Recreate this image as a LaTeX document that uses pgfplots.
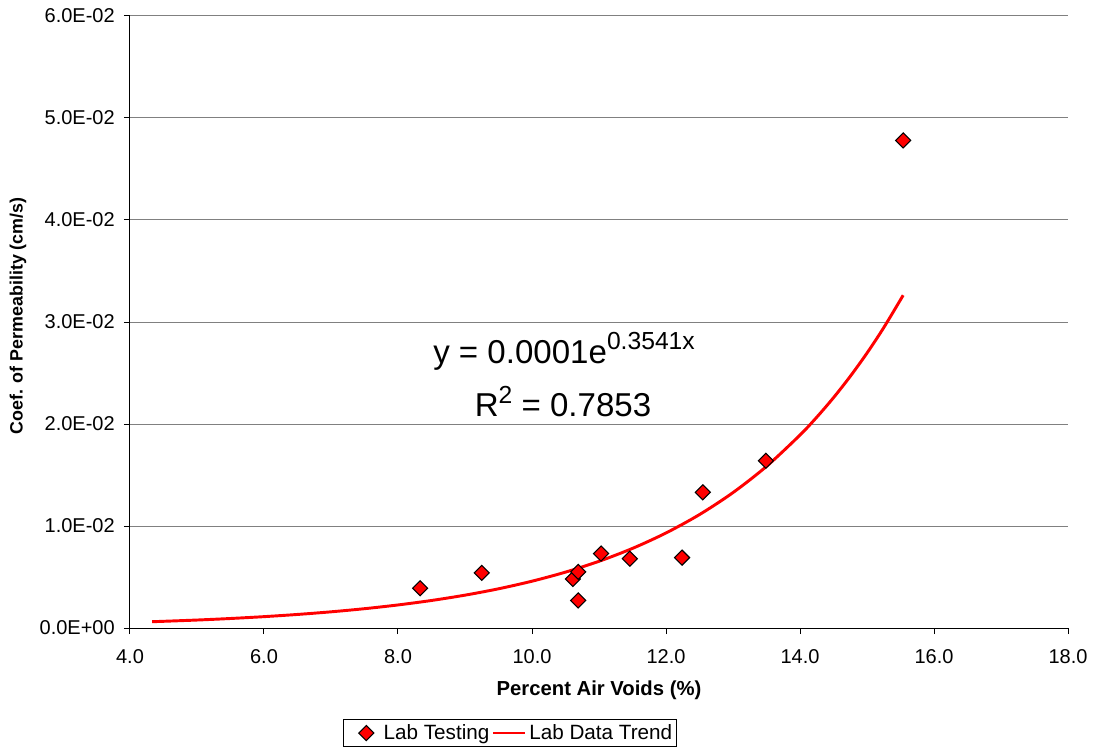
\documentclass[border=0pt]{standalone}
\usepackage{fontspec}
\setmainfont{Liberation Sans}
\usepackage{pgfplots}
\pgfplotsset{compat=1.18}
\newcommand{\tlf}{\fontsize{15}{17}\selectfont}
\pgfplotsset{
  mylegmark/.style={legend image code/.code={\path[draw=none] (0pt,0pt) -- (27pt,0pt); \draw[##1] plot coordinates {(16pt,0pt)};}},
  myleglinestyle/.style={legend image code/.code={\draw[##1, line width=2pt] (0pt,0pt) -- (24pt,0pt);}},
}
\begin{document}
\begin{tikzpicture}
\begin{axis}[
  scale only axis,
  width=703.5pt, height=459pt,
  xmin=4, xmax=18, ymin=0, ymax=0.06,
  axis x line=bottom, axis y line=left,
  axis line style={-, black, line width=0.75pt},
  tick align=outside,
  major tick length=4.5pt,
  tick style={black, line width=0.75pt},
  xtick={4,6,8,10,12,14,16,18},
  xticklabels={},
  ytick={0,0.01,0.02,0.03,0.04,0.05,0.06},
  yticklabels={},
  scaled y ticks=false,
  ymajorgrids,
  grid style={gray, line width=0.75pt},
  xlabel={\textbf{Percent Air Voids (\%)}},
  ylabel={\textbf{Coef. of Permeability (cm/s)}},
  xlabel style={font=\fontsize{15.2}{17}\selectfont, at={(axis description cs:0.5,-0.1013)}, anchor=center},
  ylabel style={font=\fontsize{13.4}{15}\selectfont, at={(axis description cs:-0.1194,0.51)}, anchor=center},
  legend columns=2,
  legend style={at={(0.405,-0.1716)}, anchor=center, draw=black, line width=0.6pt,
    font=\fontsize{15.5}{17}\selectfont, inner sep=1.5pt},
  legend cell align=left,
  clip=false,
]
\addplot[only marks, mark=square*, mark size=4pt,
  mark options={rotate=45, fill=red, draw=black, line width=0.8pt}, mylegmark]
  coordinates {
  (8.33,0.0039) (9.25,0.0054) (10.61,0.0048) (10.69,0.0055) (10.69,0.0027)
  (11.03,0.0073) (11.46,0.0068) (12.24,0.0069) (12.55,0.0133) (13.49,0.0164)
  (15.54,0.0478)
  };
\addlegendentry{Lab Testing}
\addplot[red, line width=2.2pt, smooth, no marks, myleglinestyle]
  coordinates {
  (4.33,0.000616) (5,0.000781) (5.5,0.000932) (6,0.001113) (6.5,0.001329)
  (7,0.001586) (7.5,0.001893) (8,0.002260) (8.5,0.002698) (9,0.003220)
  (9.5,0.003844) (10,0.004589) (10.5,0.005478) (11,0.006540) (11.5,0.007805)
  (12,0.009317) (12.5,0.011121) (13,0.013276) (13.5,0.015847) (14,0.018917)
  (14.25,0.020667) (14.5,0.022581) (14.75,0.024673) (15,0.026954)
  (15.25,0.029448) (15.54,0.032625)
  };
\addlegendentry{Lab Data Trend}
% tick labels (text)
\begin{scope}[every node/.style={font=\tlf, inner sep=0pt}]
\node[anchor=east, xshift=-11.25pt] at (axis cs:4,0) {0.0E+00};
\node[anchor=east, xshift=-11.25pt] at (axis cs:4,0.01) {1.0E-02};
\node[anchor=east, xshift=-11.25pt] at (axis cs:4,0.02) {2.0E-02};
\node[anchor=east, xshift=-11.25pt] at (axis cs:4,0.03) {3.0E-02};
\node[anchor=east, xshift=-11.25pt] at (axis cs:4,0.04) {4.0E-02};
\node[anchor=east, xshift=-11.25pt] at (axis cs:4,0.05) {5.0E-02};
\node[anchor=east, xshift=-11.25pt] at (axis cs:4,0.06) {6.0E-02};
\node[anchor=north, yshift=-16pt] at (axis cs:4,0) {4.0};
\node[anchor=north, yshift=-16pt] at (axis cs:6,0) {6.0};
\node[anchor=north, yshift=-16pt] at (axis cs:8,0) {8.0};
\node[anchor=north, yshift=-16pt] at (axis cs:10,0) {10.0};
\node[anchor=north, yshift=-16pt] at (axis cs:12,0) {12.0};
\node[anchor=north, yshift=-16pt] at (axis cs:14,0) {14.0};
\node[anchor=north, yshift=-16pt] at (axis cs:16,0) {16.0};
\node[anchor=north, yshift=-16pt] at (axis cs:18,0) {18.0};
\end{scope}
\node[font=\fontsize{24.8}{28}\selectfont, anchor=base] at (axis cs:10.478,0.02598)
  {y = 0.0001e\raisebox{10pt}{\fontsize{18.5}{20}\selectfont 0.3541x}};
\node[font=\fontsize{24.8}{28}\selectfont, anchor=base] at (axis cs:10.463,0.02069)
  {R\raisebox{10pt}{\fontsize{18.5}{20}\selectfont 2} = 0.7853};
\end{axis}
\pgfresetboundingbox
\path (current axis.south west) ++(-97.5pt,-89.25pt) coordinate (bbsw);
\path (current axis.north east) ++(18.75pt,12pt) coordinate (bbne);
\path (bbsw) rectangle (bbne);
\end{tikzpicture}
\end{document}
